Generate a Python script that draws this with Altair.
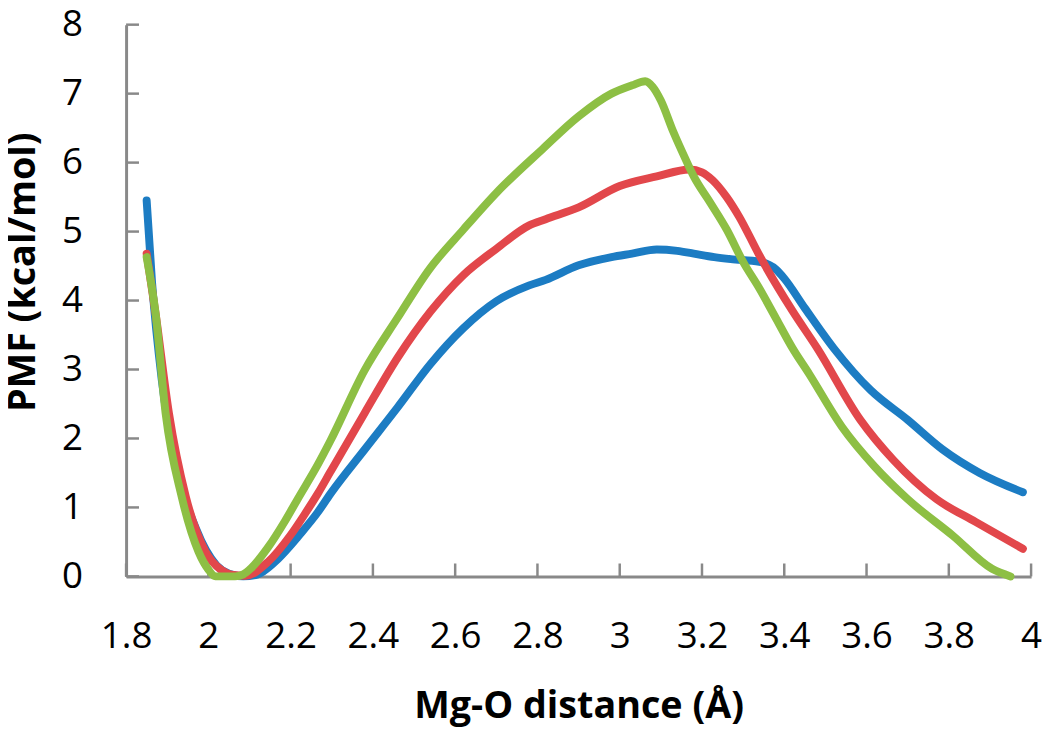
import altair as alt
import pandas as pd

# Blue series
blue_x = [1.85, 1.863, 1.887, 1.92, 1.97, 2.02, 2.05, 2.085, 2.12, 2.16, 2.2, 2.217, 2.266, 2.297,
          2.38, 2.46, 2.54, 2.62, 2.70, 2.78, 2.82, 2.90, 2.98, 3.03, 3.09, 3.14, 3.18, 3.23, 3.27,
          3.34, 3.38, 3.40, 3.45, 3.52, 3.61, 3.70, 3.785, 3.875, 3.98]
blue_y = [5.45, 4.27, 2.84, 1.65, 0.69, 0.16, 0.04, 0.0, 0.03, 0.2, 0.45, 0.57, 0.93, 1.2,
          1.84, 2.45, 3.08, 3.6, 3.99, 4.22, 4.3, 4.51, 4.63, 4.68, 4.74, 4.72, 4.68, 4.63, 4.6,
          4.56, 4.45, 4.32, 3.89, 3.31, 2.7, 2.27, 1.84, 1.5, 1.22]

# Red series
red_x = [1.85, 1.872, 1.904, 1.945, 1.993, 2.03, 2.06, 2.09, 2.145, 2.2, 2.234, 2.266, 2.297,
         2.38, 2.46, 2.54, 2.62, 2.70, 2.78, 2.82, 2.90, 3.0, 3.09, 3.17, 3.2, 3.225, 3.26, 3.29,
         3.34, 3.42, 3.48, 3.585, 3.665, 3.77, 3.865, 3.98]
red_y = [4.68, 3.8, 2.37, 1.16, 0.36, 0.1, 0.02, 0.01, 0.21, 0.6, 0.9, 1.2, 1.52,
         2.37, 3.17, 3.84, 4.37, 4.75, 5.09, 5.18, 5.35, 5.66, 5.8, 5.9, 5.86, 5.75, 5.5, 5.22,
         4.65, 3.85, 3.31, 2.27, 1.69, 1.12, 0.79, 0.40]

# Green series
green_x = [1.85, 1.872, 1.896, 1.935, 1.976, 2.0, 2.017, 2.065, 2.085, 2.104, 2.145, 2.186, 2.217,
           2.266, 2.297, 2.379, 2.459, 2.538, 2.62, 2.70, 2.813, 2.90, 2.98, 3.03, 3.062, 3.08,
           3.10, 3.13, 3.16, 3.18, 3.22, 3.26, 3.30, 3.34, 3.38, 3.42, 3.46, 3.54, 3.62, 3.70,
           3.81, 3.905, 3.95]
green_y = [4.63, 3.8, 2.37, 1.16, 0.36, 0.1, 0.0, 0.0, 0.03, 0.12, 0.42, 0.8, 1.12,
           1.62, 1.97, 2.98, 3.74, 4.46, 5.03, 5.56, 6.2, 6.67, 7.0, 7.12, 7.18, 7.1,
           6.9, 6.45, 6.05, 5.8, 5.42, 5.03, 4.56, 4.17, 3.74, 3.31, 2.94, 2.17, 1.59, 1.12,
           0.59, 0.11, 0.0]

series_colors = ["#1C7CC3", "#E2474B", "#8DBF44"]

x_ticks = [1.8, 2.0, 2.2, 2.4, 2.6, 2.8, 3.0, 3.2, 3.4, 3.6, 3.8, 4.0]
y_ticks = [0, 1, 2, 3, 4, 5, 6, 7, 8]

FONT = "Open Sans"
W, H = 912, 556
AXIS_GREY = "#898989"

xscale = alt.Scale(domain=[1.8, 4.0], nice=False, zero=False)
yscale = alt.Scale(domain=[0, 8], nice=False)

x_axis = alt.Axis(
    values=x_ticks, title="Mg-O distance (Å)", grid=False, ticks=False, tickSize=0,
    domainColor=AXIS_GREY, domainWidth=3,
    labelFont=FONT, labelFontSize=37, labelColor="black", labelPadding=61,
    labelBaseline="middle", labelExpr="format(datum.value, '~g')",
    labelFlush=False, labelOverlap=False,
    titleFont=FONT, titleFontSize=38, titleFontWeight="bold", titleColor="black",
    titleX=456, titleY=131, titleBaseline="middle", titleAlign="center",
)
y_axis = alt.Axis(
    values=y_ticks, title="PMF (kcal/mol)", grid=False, ticks=False, tickSize=0,
    domainColor=AXIS_GREY, domainWidth=3,
    labelFont=FONT, labelFontSize=37, labelColor="black", labelPadding=44,
    labelAlign="right", labelBaseline="middle", labelFlush=False, labelOverlap=False,
    titleFont=FONT, titleFontSize=38, titleFontWeight="bold", titleColor="black",
    titleAngle=270, titleX=-103, titleY=249, titleBaseline="middle", titleAlign="center",
)

layers = []
# inward tick marks
xt = pd.DataFrame({"x": x_ticks})
yt = pd.DataFrame({"y": y_ticks})
layers.append(alt.Chart(xt).mark_rule(color=AXIS_GREY, strokeWidth=2.5).encode(
    x=alt.X("x:Q", scale=xscale, axis=x_axis),
    y=alt.value(H), y2=alt.value(H - 13),
))
layers.append(alt.Chart(yt).mark_rule(color=AXIS_GREY, strokeWidth=2.5).encode(
    y=alt.Y("y:Q", scale=yscale, axis=y_axis),
    x=alt.value(0), x2=alt.value(13),
))

for xs, ys, col in [(blue_x, blue_y, series_colors[0]),
                    (red_x, red_y, series_colors[1]),
                    (green_x, green_y, series_colors[2])]:
    df = pd.DataFrame({"x": xs, "y": ys})
    layers.append(
        alt.Chart(df).mark_line(color=col, strokeWidth=8, strokeCap="round",
                                strokeJoin="round", interpolate="monotone", clip=False).encode(
            x=alt.X("x:Q", scale=xscale, axis=x_axis),
            y=alt.Y("y:Q", scale=yscale, axis=y_axis),
            order=alt.Order("x:Q"),
        )
    )

chart = alt.layer(*layers).properties(
    width=W, height=H,
    padding={"left": 119, "top": 14, "right": 11, "bottom": 154},
    autosize=alt.AutoSizeParams(type="none"),
    background="white",
).configure_view(stroke=None)

chart.save("out.html", embed_options={"renderer": "svg", "actions": False})
